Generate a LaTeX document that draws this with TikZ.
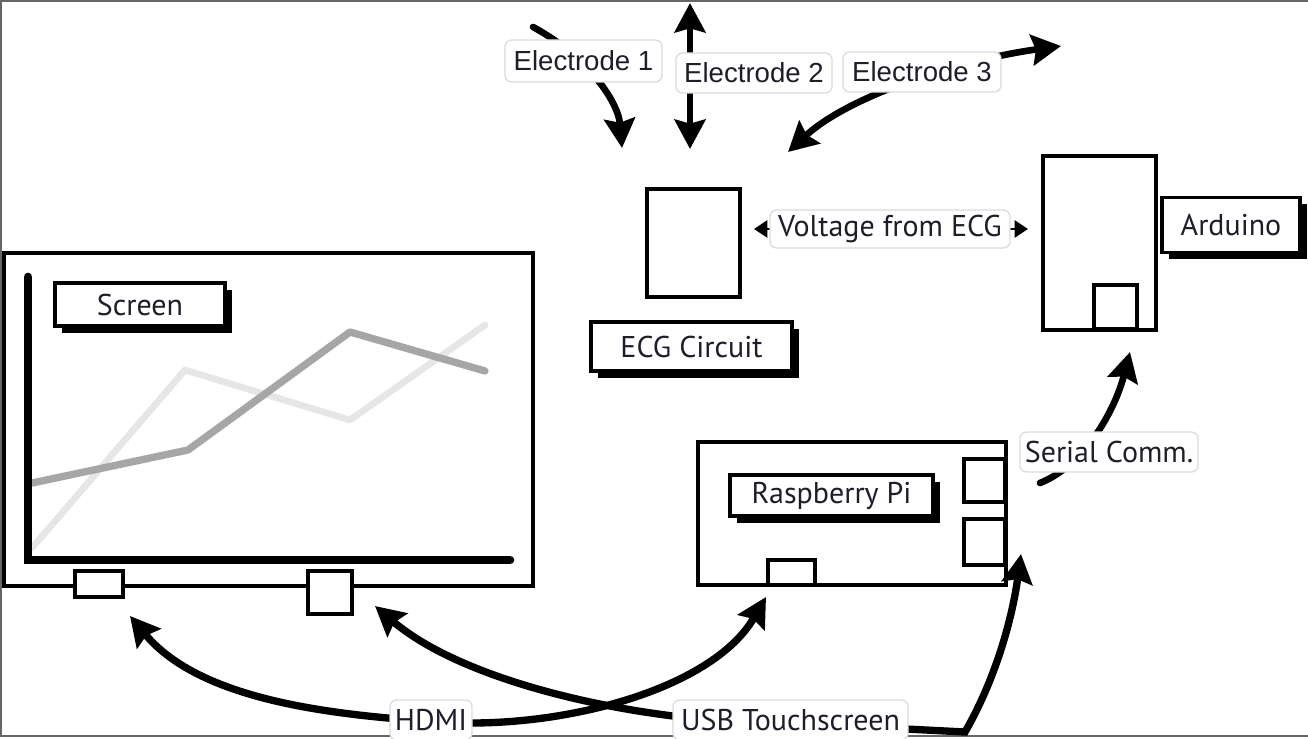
\documentclass[tikz,border=0pt]{standalone}
\usepackage{fontspec}
\setmainfont{PT Sans}
\newfontfamily\elfont{Liberation Sans}
\usetikzlibrary{arrows.meta,fit,shadows}
\definecolor{inkc}{HTML}{1E1E2A}
\definecolor{darkg}{HTML}{A6A6A6}
\definecolor{lightg}{HTML}{E6E6E6}
\begin{document}
\begin{tikzpicture}[x=0.75pt,y=-0.75pt,
 box/.style={draw=black, line width=3.3pt, fill=white, inner sep=0pt},
 port/.style={draw=black, line width=2.4pt, fill=white, inner sep=0pt},
 tag/.style={draw=black!14, line width=1pt, rounded corners=5pt, fill=white, inner sep=0pt, text=inkc, font=\fontsize{22.5}{25}\selectfont, anchor=center},
 etag/.style={tag, font=\elfont\fontsize{20.7}{23}\selectfont},
 title/.style={draw=black, line width=2.7pt, fill=white, inner sep=0pt, text=inkc, anchor=center, font=\fontsize{22.5}{25}\selectfont, drop shadow={shadow xshift=5pt, shadow yshift=-5pt, fill=black, opacity=1}},
 tipb/.tip={Stealth[length=22pt,width=23pt,inset=3pt]},
 conn/.style={line width=5pt, line cap=round, -tipb},
 conntwo/.style={line width=5pt, tipb-tipb},
 bconn/.style={line width=5.5pt, tipb-tipb},
]
\useasboundingbox (0,0) rectangle (1308,738);
\fill[white] (0,0) rectangle (1308,738);
\draw[black!60, line width=1.6pt] (1308,1) -- (1,1) -- (1,736) -- (1308,736);

% ---- screen ----
\node[box, fit={(4,253) (533,586)}] (screen) {};
\draw[lightg, line width=5pt, line cap=round, line join=round] (32,548) -- (185,370) -- (350,420) -- (485,325);
\draw[darkg, line width=5.5pt, line cap=round, line join=round] (32,483) -- (188,450) -- (350,332) -- (485,371);
\draw[black, line width=6.5pt, line cap=round] (28,277) -- (28,560) -- (510,560);
\node[port, fit={(75,571) (123,597)}] (sport1) {};
\node[port, fit={(308,571) (352,614)}] (sport2) {};
\node[title, minimum width=127.5pt, minimum height=32.25pt] (scrl) at (140,304.5) {Screen};

% ---- ECG ----
\node[box, fit={(647,189) (740,297)}] (ecg) {};
\node[title, minimum width=150.75pt, minimum height=36.75pt] (ecgl) at (691.5,346.5) {ECG Circuit};

% ---- Arduino ----
\node[box, fit={(1043,156) (1156,330)}] (ard) {};
\node[port, fit={(1094,285) (1137,329)}] (ardport) {};
\node[title, minimum width=103.5pt, minimum height=41pt] (ardl) at (1231,225) {Arduino};

% ---- Raspberry Pi ----
\node[box, fit={(698,442) (1006,585)}] (rpi) {};
\node[port, fit={(964,459) (1005,502)}] (rport1) {};
\node[port, fit={(964,519) (1005,565)}] (rport2) {};
\node[port, fit={(768,560) (815,585)}] (rport3) {};
\node[title, minimum width=152.25pt, minimum height=30.75pt] (rpil) at (831.5,495.5) {Raspberry Pi};

% ---- connector end points ----
\coordinate (e1s) at (533,27);
\coordinate (e1e) at (622,148);
\coordinate (e2a) at (690,3);
\coordinate (e2b) at (690,149);
\coordinate (e3a) at (788,152);
\coordinate (e3b) at (1061,46);
\coordinate (vl) at (754,229);
\coordinate (vr) at (1028,229);
\coordinate (sers) at (1040,483);
\coordinate (sere) at (1130,352);
\coordinate (hA) at (130,616);
\coordinate (hB) at (766,597);
\coordinate (uA) at (375,606);
\coordinate (uB) at (1021,554);

% ---- connectors ----
\draw[conn] (e1s) .. controls (585,55) and (618,100) .. (e1e);
\draw[conntwo] (e2a) -- (e2b);
\draw[conntwo] (e3a) .. controls (850,95) and (960,60) .. (e3b);
\draw[line width=1pt, {Triangle[length=10pt,width=13pt]}-{Triangle[length=10pt,width=13pt]}] (vl) -- (vr);
\draw[conn] (sers) .. controls (1085,465) and (1115,410) .. (sere);
\draw[bconn] (hA) .. controls (200,700) and (330,715) .. (440,722) .. controls (560,730) and (712,690) .. (hB);
\draw[bconn] (uA) .. controls (450,670) and (570,705) .. (690,718) -- (965,732) .. controls (995,680) and (1012,620) .. (uB);

% ---- labels on the connectors ----
\node[etag, minimum width=117.75pt, minimum height=31.5pt] (el1) at (583.5,61) {Electrode 1};
\node[etag, minimum width=117pt, minimum height=30pt] (el2) at (754,73) {Electrode 2};
\node[etag, minimum width=118.5pt, minimum height=30pt] (el3) at (922,72) {Electrode 3};
\node[tag, minimum width=180pt, minimum height=28.5pt] (volt) at (890,229) {Voltage from ECG};
\node[tag, minimum width=133.5pt, minimum height=30pt] (ser) at (1109,452) {Serial Comm.};
\node[tag, minimum width=61.5pt, minimum height=30pt] (hdmi) at (431,720) {HDMI};
\node[tag, minimum width=176.25pt, minimum height=30pt] (usb) at (790.5,720) {USB Touchscreen};
\end{tikzpicture}
\end{document}
